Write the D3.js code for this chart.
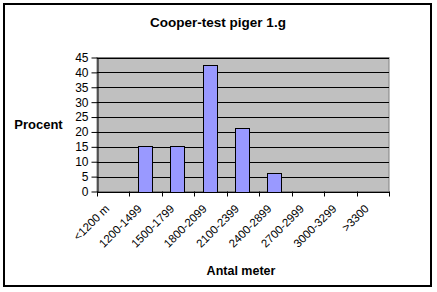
<!DOCTYPE html>
<html><head><meta charset="utf-8">
<script src="https://cdn.jsdelivr.net/npm/d3@7"></script>
<style>body{margin:0;background:#fff;} svg{display:block;}</style>
</head><body>
<script>
const categories = ["<1200 m","1200-1499","1500-1799","1800-2099","2100-2399","2400-2899","2700-2999","3000-3299",">3300"];
const values = [0, 15.15, 15.15, 42.42, 21.21, 6.06, 0, 0, 0];
const yTicks = [0,5,10,15,20,25,30,35,40,45];
const title = "Cooper-test piger 1.g";
const yTitle = "Procent";
const xTitle = "Antal meter";

const W = 437, H = 292;
const svg = d3.select("body").append("svg").attr("width", W).attr("height", H);
svg.append("rect").attr("x",4).attr("y",4).attr("width",427).attr("height",282)
  .attr("fill","#fff").attr("stroke","#000").attr("stroke-width",2);

const L = 97, R = 389, T = 57.5, B = 191.5;
const x = d3.scaleBand().domain(categories).range([L, R]).paddingInner(0.57).paddingOuter(0.285);
const xb = d3.scaleBand().domain(categories).range([L, R]);
const y = d3.scaleLinear().domain([0,45]).range([B, T]);

svg.append("rect").attr("x",L).attr("y",T).attr("width",R-L).attr("height",B-T)
  .attr("fill","#C0C0C0").attr("stroke","#808080").attr("stroke-width",1);

svg.append("g").selectAll("line").data(yTicks.filter(d=>d>0)).join("line")
  .attr("x1",L).attr("x2",R).attr("y1",d=>Math.round(y(d))+0.5).attr("y2",d=>Math.round(y(d))+0.5)
  .attr("stroke","#000").attr("stroke-width",1);

svg.append("g").selectAll("rect").data(values.map((v,i)=>({v,c:categories[i]})).filter(d=>d.v>0)).join("rect")
  .attr("x",d=>Math.round(x(d.c)-1)+0.5).attr("width",Math.round(x.bandwidth()))
  .attr("y",d=>Math.round(y(d.v))+0.5).attr("height",d=>Math.round(B)-Math.round(y(d.v)))
  .attr("fill","#9999FF").attr("stroke","#000").attr("stroke-width",1);

// y axis
const ya = svg.append("g").attr("transform",`translate(${L+0.5},0)`)
  .call(d3.axisLeft(y).tickValues(yTicks).tickSize(6).tickSizeOuter(0).tickPadding(3));
ya.select(".domain").attr("stroke","#000");
ya.selectAll("text").attr("font-family","Arial, Liberation Sans").attr("font-size",12).attr("fill","#000");

// x axis
const boundaries = d3.range(categories.length+1).map(i=>L + i*xb.step());
const xa = svg.append("g");
xa.append("line").attr("x1",L).attr("x2",R).attr("y1",Math.round(B)+0.5).attr("y2",Math.round(B)+0.5).attr("stroke","#000");
xa.selectAll("line.t").data(boundaries).join("line").attr("class","t")
  .attr("x1",d=>Math.round(d)+0.5).attr("x2",d=>Math.round(d)+0.5).attr("y1",B).attr("y2",B+5).attr("stroke","#000");
xa.selectAll("text").data(categories).join("text")
  .attr("transform",d=>`translate(${xb(d)+xb.bandwidth()/2-6},${B+15}) rotate(-45)`)
  .attr("text-anchor","end").attr("dy","0.35em")
  .attr("font-family","Arial, Liberation Sans").attr("font-size",11.5).text(d=>d);

svg.append("text").attr("x",218).attr("y",27).attr("text-anchor","middle")
  .attr("font-family","Arial, Liberation Sans").attr("font-weight","bold").attr("font-size",13.5).text(title);
svg.append("text").attr("x",38.5).attr("y",128.5).attr("text-anchor","middle")
  .attr("font-family","Arial, Liberation Sans").attr("font-weight","bold").attr("font-size",13).text(yTitle);
svg.append("text").attr("x",241).attr("y",275).attr("text-anchor","middle")
  .attr("font-family","Arial, Liberation Sans").attr("font-weight","bold").attr("font-size",12.5).text(xTitle);
</script>
</body></html>
